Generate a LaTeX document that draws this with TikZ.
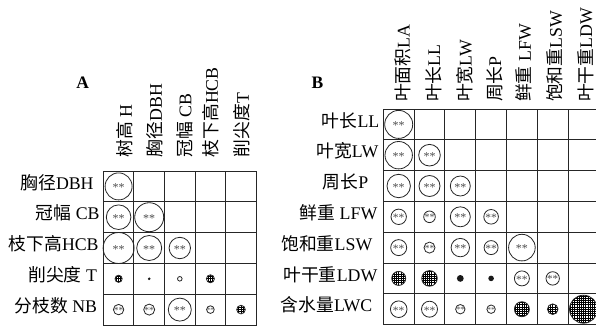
\documentclass[tikz,border=0pt]{standalone}
\usepackage{fontspec}
\setmainfont{Liberation Serif}
\newfontfamily\cjk{Noto Sans CJK SC}
\newcommand\zh[1]{{\cjk #1}}
\newcommand\Ax[1]{118.6+30.6*#1}
\newcommand\Ay[1]{186.4+30.8*#1}
\newcommand\Bx[1]{398.7+30.8*#1}
\newcommand\By[1]{124.4+30.8*#1}
\newcommand\starcirc[5]{%
  \draw[circ] ({#2},{#3}) circle (#4);
  \node[stars, font=\fontsize{#5}{#5}\selectfont] (#1) at ({#2},{#3+0.09*#5}) {**};}
\newcommand\hatchcirc[3]{%
  \begin{scope}
    \clip ({#1},{#2}) circle (#3);
    \foreach \q in {-8,...,8} {
      \draw[hatchline] ({#1+2.2*\q},{#2-#3}) -- ({#1+2.2*\q},{#2+#3});
      \draw[hatchline] ({#1-#3},{#2+2.2*\q}) -- ({#1+#3},{#2+2.2*\q});
    }
  \end{scope}
  \draw[circ] ({#1},{#2}) circle (#3);}
\newcommand\dotcirc[3]{\fill[black!90] ({#1},{#2}) circle (#3);}
\newcommand\opencirc[3]{\draw[circ, fill=white] ({#1},{#2}) circle (#3);}
\begin{document}
\begin{tikzpicture}[x=1pt,y=-1pt,
  gridline/.style={line width=0.9pt, draw=black!85, line cap=rect},
  circ/.style={line width=0.8pt, draw=black!85},
  hatchline/.style={line width=0.65pt, draw=black},
  stars/.style={text=black!70, inner sep=0pt},
  lab/.style={inner sep=0pt, text=black, font=\fontsize{17.8}{20}\selectfont},
  rowlab/.style={lab, anchor=base east},
  collab/.style={lab, anchor=west, rotate=90},
  paneltitle/.style={inner sep=0pt, anchor=base, text=black, font=\fontsize{17.5}{20}\selectfont\bfseries}]
\useasboundingbox (0,0) rectangle (596,329);
\clip (0,0) rectangle (596,329);
\fill[white] (0,0) rectangle (596,329);

% ---------- Panel A ----------
\node[paneltitle] (tA) at (82.7,88.3) {A};
\foreach \k in {0,...,5} {
  \draw[gridline] ({103.3+30.6*\k},171) -- ({103.3+30.6*\k},325);
  \draw[gridline] (103.3,{171+30.8*\k}) -- (256.3,{171+30.8*\k});
}
\node[collab] (hA0) at (125,157.5) {\zh{树高} H};
\node[collab] (hA1) at (155,157.5) {\zh{胸径}DBH};
\node[collab] (hA2) at (184.5,157.5) {\zh{冠幅} CB};
\node[collab] (hA3) at (211,157.5) {\zh{枝下高}HCB};
\node[collab] (hA4) at (242,157.5) {\zh{削尖度}T};

\node[rowlab] (rA0) at (93.8,{\Ay{0}+2.6}) {\zh{胸径}DBH};
\node[rowlab] (rA1) at (99.8,{\Ay{1}+2.6}) {\zh{冠幅} CB};
\node[rowlab] (rA2) at (98.8,{\Ay{2}+2.6}) {\zh{枝下高}HCB};
\node[rowlab] (rA3) at (97.2,{\Ay{3}+2.6}) {\zh{削尖度} T};
\node[rowlab] (rA4) at (97.2,{\Ay{4}+2.6}) {\zh{分枝数} NB};

\starcirc{sA00}{\Ax{0}}{\Ay{0}}{13.5}{12}
\starcirc{sA10}{\Ax{0}}{\Ay{1}}{12.3}{12}
\starcirc{sA11}{\Ax{1}}{\Ay{1}}{14.5}{12}
\starcirc{sA20}{\Ax{0}}{\Ay{2}}{15.5}{12}
\starcirc{sA21}{\Ax{1}}{\Ay{2}}{12.5}{12}
\starcirc{sA22}{\Ax{2}}{\Ay{2}}{10.7}{12}
\hatchcirc{\Ax{0}}{\Ay{3}}{3.6}
\dotcirc{\Ax{1}}{\Ay{3}}{1.4}
\opencirc{\Ax{2}}{\Ay{3}}{2.3}
\hatchcirc{\Ax{3}}{\Ay{3}}{4}
\starcirc{sA40}{\Ax{0}}{\Ay{4}}{5.2}{9.5}
\starcirc{sA41}{\Ax{1}}{\Ay{4}}{5.5}{9.5}
\starcirc{sA42}{\Ax{2}}{\Ay{4}}{11.5}{12}
\starcirc{sA43}{\Ax{3}}{\Ay{4}}{3.8}{7}
\hatchcirc{\Ax{4}}{\Ay{4}}{4.3}

% ---------- Panel B ----------
\node[paneltitle] (tB) at (317.5,88.3) {B};
\foreach \k in {0,...,7} {
  \draw[gridline] ({383.3+30.8*\k},109) -- ({383.3+30.8*\k},324.6);
  \draw[gridline] (383.3,{109+30.8*\k}) -- (600,{109+30.8*\k});
}
\node[collab] (hB0) at (403,102) {\zh{叶面积}LA};
\node[collab] (hB1) at (433.5,102) {\zh{叶长}LL};
\node[collab] (hB2) at (465,102) {\zh{叶宽}LW};
\node[collab] (hB3) at (494.5,102) {\zh{周长}P};
\node[collab] (hB4) at (524,102) {\zh{鲜重} LFW};
\node[collab] (hB5) at (555,102) {\zh{饱和重}LSW};
\node[collab] (hB6) at (585.5,102) {\zh{叶干重}LDW};

\node[rowlab] (rB0) at (379.5,{\By{0}+2.6}) {\zh{叶长}LL};
\node[rowlab] (rB1) at (378.5,{\By{1}+2.6}) {\zh{叶宽}LW};
\node[rowlab] (rB2) at (368.5,{\By{2}+2.6}) {\zh{周长}P};
\node[rowlab] (rB3) at (377.5,{\By{3}+2.6}) {\zh{鲜重} LFW};
\node[rowlab] (rB4) at (372.5,{\By{4}+2.6}) {\zh{饱和重}LSW};
\node[rowlab] (rB5) at (377.5,{\By{5}+2.6}) {\zh{叶干重}LDW};
\node[rowlab] (rB6) at (372.5,{\By{6}+2.6}) {\zh{含水量}LWC};

\starcirc{sB00}{\Bx{0}}{\By{0}}{14}{12}
\starcirc{sB10}{\Bx{0}}{\By{1}}{13.7}{12}
\starcirc{sB11}{\Bx{1}}{\By{1}}{10.8}{12}
\starcirc{sB20}{\Bx{0}}{\By{2}}{11.7}{12}
\starcirc{sB21}{\Bx{1}}{\By{2}}{10.5}{12}
\starcirc{sB22}{\Bx{2}}{\By{2}}{10}{12}
\starcirc{sB30}{\Bx{0}}{\By{3}}{7.7}{11.5}
\starcirc{sB31}{\Bx{1}}{\By{3}}{5.8}{10}
\starcirc{sB32}{\Bx{2}}{\By{3}}{10}{12}
\starcirc{sB33}{\Bx{3}}{\By{3}}{7.3}{11.5}
\starcirc{sB40}{\Bx{0}}{\By{4}}{8}{11.5}
\starcirc{sB41}{\Bx{1}}{\By{4}}{5.5}{9.5}
\starcirc{sB42}{\Bx{2}}{\By{4}}{9.2}{12}
\starcirc{sB43}{\Bx{3}}{\By{4}}{7}{11.5}
\starcirc{sB44}{\Bx{4}}{\By{4}}{13.3}{12}
\hatchcirc{\Bx{0}}{\By{5}}{7}
\hatchcirc{\Bx{1}}{\By{5}}{7.8}
\dotcirc{\Bx{2}}{\By{5}}{3.4}
\dotcirc{\Bx{3}}{\By{5}}{2.8}
\starcirc{sB54}{\Bx{4}}{\By{5}}{7.5}{11.5}
\starcirc{sB55}{\Bx{5}}{\By{5}}{6.7}{11}
\starcirc{sB60}{\Bx{0}}{\By{6}}{8.3}{11.5}
\starcirc{sB61}{\Bx{1}}{\By{6}}{8}{11.5}
\starcirc{sB62}{\Bx{2}}{\By{6}}{4.7}{8.5}
\starcirc{sB63}{\Bx{3}}{\By{6}}{4.2}{7.5}
\hatchcirc{\Bx{4}}{\By{6}}{7.5}
\hatchcirc{\Bx{5}}{\By{6}}{5.3}
\hatchcirc{\Bx{6}}{\By{6}}{14}
\end{tikzpicture}
\end{document}
